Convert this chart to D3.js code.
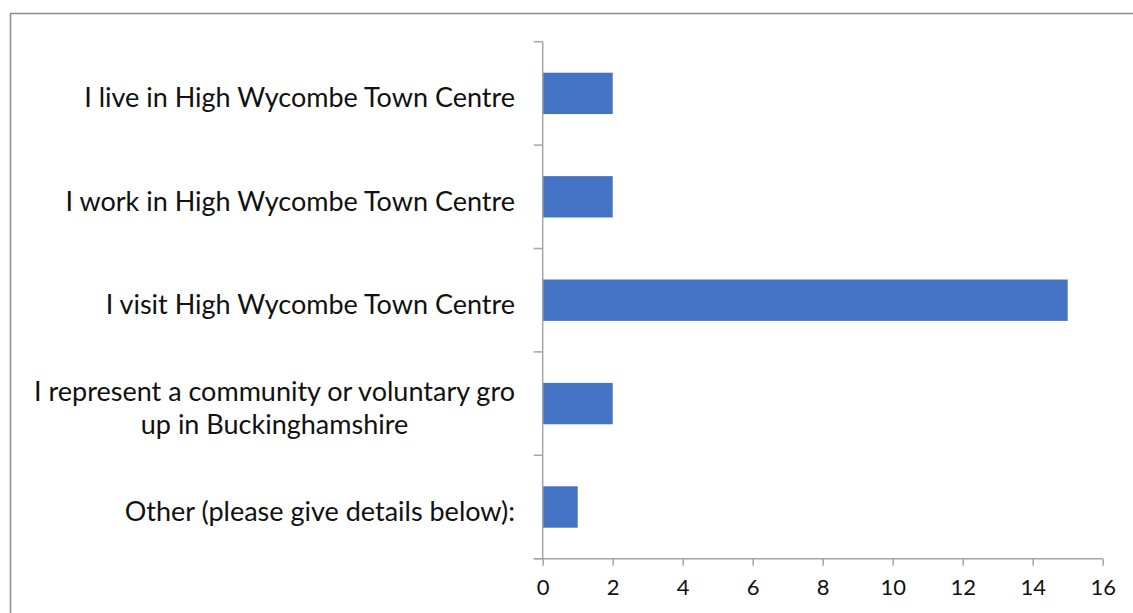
<!DOCTYPE html>
<html>
<head>
<meta charset="utf-8">
<script src="https://cdn.jsdelivr.net/npm/d3@7"></script>
<style>
  html, body { margin: 0; padding: 0; background: #fff; }
  svg { display: block; }
</style>
</head>
<body>
<svg id="chart" width="1133" height="613"></svg>
<script>
// Survey responses: "Which of these best describes you?"
const categories = [
  ["I live in High Wycombe Town Centre"],
  ["I work in High Wycombe Town Centre"],
  ["I visit High Wycombe Town Centre"],
  ["I represent a community or voluntary gro", "up in Buckinghamshire"],
  ["Other (please give details below):"]
];
const counts = [2, 2, 15, 2, 1];
const xTicks = [0, 2, 4, 6, 8, 10, 12, 14, 16];

const svg = d3.select("#chart");
const font = "Lato, 'Open Sans', sans-serif";
const axisColor = "#a6a6a6";
const textColor = "#111";

// frame around the chart
svg.append("rect")
  .attr("x", 10.5).attr("y", 13.5)
  .attr("width", 1140).attr("height", 640)
  .attr("fill", "none").attr("stroke", "#8c8c8c").attr("stroke-width", 1.5);

const plot = { left: 542.7, right: 1102.7, top: 41.7, bottom: 558.7 };

const x = d3.scaleLinear().domain([0, 16]).range([plot.left, plot.right]);
const y = d3.scaleBand()
  .domain(d3.range(categories.length))
  .range([plot.top, plot.bottom])
  .paddingInner(0.6)
  .paddingOuter(0.3);

// bars
svg.append("g").selectAll("rect")
  .data(counts)
  .join("rect")
  .attr("x", x(0))
  .attr("y", (d, i) => y(i))
  .attr("width", d => x(d) - x(0))
  .attr("height", y.bandwidth())
  .attr("fill", "#4472c4");

// value axis along the bottom
const xAxis = svg.append("g")
  .attr("transform", `translate(0,${plot.bottom})`)
  .call(d3.axisBottom(x).tickValues(xTicks).tickSize(7).tickPadding(14).tickSizeOuter(0));
xAxis.select(".domain").remove();
xAxis.selectAll(".tick line").attr("stroke", axisColor).attr("stroke-width", 1.5);
xAxis.selectAll(".tick text")
  .attr("font-family", font).attr("font-size", 22).attr("fill", textColor);
svg.append("line")
  .attr("x1", plot.left - 9).attr("x2", plot.right)
  .attr("y1", plot.bottom).attr("y2", plot.bottom)
  .attr("stroke", axisColor).attr("stroke-width", 1.5);

// category axis: vertical line with ticks between the categories
svg.append("line")
  .attr("x1", plot.left).attr("x2", plot.left)
  .attr("y1", plot.top).attr("y2", plot.bottom)
  .attr("stroke", axisColor).attr("stroke-width", 1.5);
const step = y.step();
svg.append("g").selectAll("line")
  .data(d3.range(categories.length + 1))
  .join("line")
  .attr("x1", plot.left - 9).attr("x2", plot.left)
  .attr("y1", i => plot.top + i * step).attr("y2", i => plot.top + i * step)
  .attr("stroke", axisColor).attr("stroke-width", 1.5);

// category labels, right aligned; wrapped lines centred on each other
const labelRight = 515;
const lineH = 33.5;
categories.forEach((lines, i) => {
  const cy = y(i) + y.bandwidth() / 2;
  const g = svg.append("g");
  const texts = lines.map((ln, k) => g.append("text")
    .attr("font-family", font).attr("font-size", 27).attr("fill", textColor)
    .attr("y", cy + (k - (lines.length - 1) / 2) * lineH)
    .attr("dy", "0.52em")
    .text(ln));
  if (lines.length === 1) {
    texts[0].attr("x", labelRight).attr("text-anchor", "end");
  } else {
    const w = d3.max(texts, t => t.node().getComputedTextLength());
    texts.forEach(t => t.attr("x", labelRight - w / 2).attr("text-anchor", "middle"));
  }
});
</script>
</body>
</html>
